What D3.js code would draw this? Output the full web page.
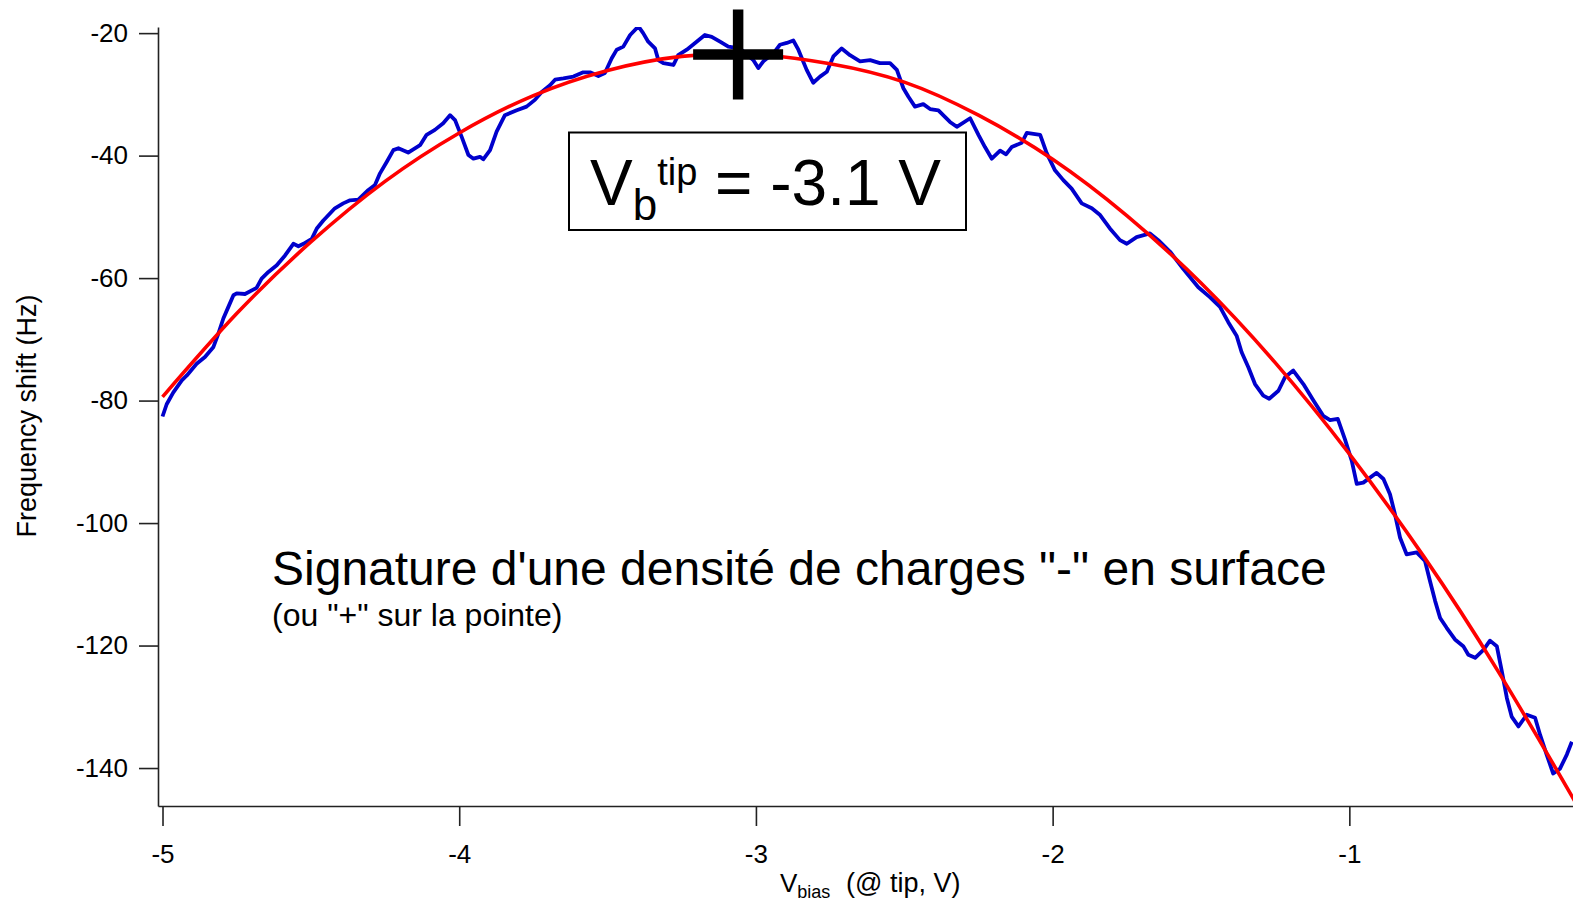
<!DOCTYPE html>
<html>
<head>
<meta charset="utf-8">
<script src="https://cdn.jsdelivr.net/npm/d3@7"></script>
<style>
  html, body { margin: 0; padding: 0; background: #fff; }
  svg { display: block; font-family: "Liberation Sans", Arial, Helvetica, sans-serif; }
  .axis path, .axis line { stroke: #222; stroke-width: 1.6; }
  .axis text { fill: #000; font-size: 26px; font-family: "Liberation Sans", Arial, sans-serif; }
</style>
</head>
<body>
<svg id="chart" width="1573" height="904"></svg>
<script>
// Measured frequency shift vs. bias voltage (tip side)
const biasV = [-5.000,-4.986,-4.964,-4.935,-4.918,-4.885,-4.857,-4.829,-4.812,-4.795,
  -4.778,-4.761,-4.750,-4.722,-4.683,-4.666,-4.643,-4.615,-4.587,-4.559,
  -4.542,-4.525,-4.497,-4.480,-4.458,-4.419,-4.391,-4.368,-4.340,-4.306,
  -4.284,-4.267,-4.244,-4.222,-4.205,-4.172,-4.132,-4.110,-4.082,-4.054,
  -4.031,-4.014,-3.992,-3.969,-3.952,-3.930,-3.919,-3.896,-3.874,-3.846,
  -3.806,-3.773,-3.745,-3.722,-3.694,-3.677,-3.649,-3.615,-3.582,-3.559,
  -3.531,-3.509,-3.486,-3.469,-3.447,-3.424,-3.396,-3.380,-3.363,-3.340,
  -3.329,-3.312,-3.278,-3.262,-3.233,-3.205,-3.172,-3.149,-3.121,-3.093,
  -3.054,-3.009,-2.992,-2.975,-2.941,-2.919,-2.896,-2.874,-2.857,-2.829,
  -2.807,-2.784,-2.761,-2.739,-2.711,-2.683,-2.649,-2.615,-2.582,-2.548,
  -2.525,-2.503,-2.486,-2.464,-2.436,-2.413,-2.385,-2.346,-2.323,-2.278,
  -2.250,-2.228,-2.205,-2.177,-2.157,-2.138,-2.104,-2.087,-2.042,-2.020,
  -1.992,-1.964,-1.936,-1.902,-1.868,-1.840,-1.807,-1.773,-1.750,-1.717,
  -1.672,-1.644,-1.604,-1.560,-1.509,-1.470,-1.436,-1.408,-1.380,-1.363,
  -1.340,-1.318,-1.290,-1.270,-1.239,-1.217,-1.189,-1.155,-1.121,-1.088,
  -1.065,-1.039,-1.015,-0.992,-0.975,-0.953,-0.908,-0.885,-0.863,-0.846,
  -0.829,-0.807,-0.773,-0.745,-0.728,-0.711,-0.694,-0.672,-0.644,-0.616,
  -0.599,-0.576,-0.548,-0.526,-0.503,-0.486,-0.469,-0.453,-0.430,-0.402,
  -0.374,-0.357,-0.335,-0.313,-0.290,-0.267,-0.250];

const freqShift = [-82.6,-80.6,-78.7,-76.7,-75.9,-74.0,-72.9,-71.3,-69.1,-66.6,
  -64.7,-62.8,-62.5,-62.6,-61.6,-60.1,-59.0,-57.9,-56.3,-54.4,
  -54.8,-54.4,-53.6,-51.9,-50.6,-48.6,-47.8,-47.3,-47.2,-45.6,
  -44.8,-42.9,-41.0,-39.1,-38.8,-39.5,-38.3,-36.6,-35.8,-34.7,
  -33.4,-34.2,-36.9,-39.9,-40.5,-40.2,-40.6,-39.1,-36.1,-33.4,
  -32.6,-32.0,-30.9,-29.6,-28.5,-27.6,-27.4,-27.1,-26.4,-26.4,
  -27.0,-26.5,-24.1,-22.7,-22.2,-20.3,-18.9,-20.0,-21.4,-22.5,
  -24.4,-24.9,-25.2,-23.6,-22.7,-21.6,-20.3,-20.6,-21.4,-22.2,
  -22.5,-24.4,-25.7,-24.6,-23.3,-21.9,-21.6,-21.2,-22.7,-26.0,
  -28.1,-27.1,-26.3,-23.8,-22.5,-23.6,-24.6,-24.4,-24.9,-24.9,
  -26.0,-29.0,-30.4,-32.0,-31.6,-32.4,-32.6,-34.5,-35.3,-33.9,
  -36.6,-38.6,-40.5,-39.2,-39.8,-38.6,-37.9,-36.3,-36.6,-39.6,
  -42.4,-44.0,-45.4,-47.8,-48.6,-49.7,-51.9,-53.8,-54.4,-53.3,
  -52.7,-53.8,-55.7,-58.5,-61.5,-63.1,-64.7,-67.2,-69.4,-72.1,
  -74.6,-77.3,-79.2,-79.7,-78.4,-76.2,-75.1,-77.3,-80.0,-82.5,
  -83.2,-83.0,-86.3,-89.8,-93.6,-93.4,-91.8,-92.8,-95.3,-98.6,
  -102.4,-105.1,-104.8,-106.2,-109.5,-112.7,-115.5,-117.1,-119.0,-120.1,
  -121.5,-122.0,-120.7,-119.2,-120.1,-124.2,-128.6,-131.6,-133.2,-131.3,
  -131.8,-134.6,-137.8,-140.9,-140.1,-137.8,-135.7];

// Parabolic fit, sampled along the bias range
const fitV     = [-5.0, -4.75, -4.5, -4.25, -4.0, -3.75, -3.5, -3.25, -3.0, -2.75,
                  -2.5, -2.25, -2.0, -1.75, -1.5, -1.25, -1.0, -0.75, -0.5, -0.25, -0.2];
const fitShift = [-79.4, -65.8, -54.1, -44.2, -36.3, -30.2, -26.1, -23.8, -23.5, -25.0,
                  -28.0, -33.4, -40.6, -49.8, -60.8, -73.8, -88.7, -105.4, -124.1, -144.6, -149.0];

// Vertex of the fit (marked by the cross)
const vertexV = -3.06;
const vertexShift = -23.5;

const xTicks = [-5, -4, -3, -2, -1];
const yTicks = [-20, -40, -60, -80, -100, -120, -140];

const mainNote = "Signature d'une densit\u00e9 de charges \"-\" en surface";
const subNote = "(ou \"+\" sur la pointe)";

const svg = d3.select("#chart");
const plotLeft = 158, plotRight = 1573, plotTop = 27, plotBottom = 806;

const x = d3.scaleLinear().domain([-5.0152, -0.2462]).range([plotLeft, plotRight]);
const y = d3.scaleLinear().domain([-146.2, -19.0]).range([plotBottom, plotTop]);

// clip region for the data traces
svg.append("defs").append("clipPath").attr("id", "plotClip")
  .append("rect").attr("x", plotLeft).attr("y", plotTop)
  .attr("width", plotRight - plotLeft).attr("height", plotBottom - plotTop);

// axes
const xAxis = d3.axisBottom(x).tickValues(xTicks).tickSize(20).tickPadding(19)
  .tickSizeOuter(0).tickFormat(d => String(d));
svg.append("g").attr("class", "axis").attr("transform", `translate(0,${plotBottom})`)
  .call(xAxis);

const yAxis = d3.axisLeft(y).tickValues(yTicks).tickSize(19).tickPadding(11)
  .tickSizeOuter(0).tickFormat(d => String(d));
svg.append("g").attr("class", "axis").attr("transform", `translate(${plotLeft},0)`)
  .call(yAxis);

// axis titles
const xt = svg.append("text").attr("y", 892).attr("font-size", 26).attr("fill", "#000");
xt.append("tspan").attr("x", 780).text("V");
xt.append("tspan").attr("font-size", 18).attr("dy", 6).text("bias");
xt.append("tspan").attr("x", 846).attr("dy", -6).attr("font-size", 27).text("(@ tip, V)");

svg.append("text")
  .attr("transform", "translate(36,416) rotate(-90)")
  .attr("text-anchor", "middle").attr("font-size", 27).attr("fill", "#000")
  .text("Frequency shift (Hz)");

// traces
const plot = svg.append("g").attr("clip-path", "url(#plotClip)");

const measured = biasV.map((v, i) => [v, freqShift[i]]);
const fit = fitV.map((v, i) => [v, fitShift[i]]);

plot.append("path").datum(measured)
  .attr("fill", "none").attr("stroke", "#0000cc").attr("stroke-width", 3.8)
  .attr("stroke-linejoin", "round")
  .attr("d", d3.line().x(d => x(d[0])).y(d => y(d[1])));

plot.append("path").datum(fit)
  .attr("fill", "none").attr("stroke", "#ff0000").attr("stroke-width", 3.6)
  .attr("d", d3.line().curve(d3.curveNatural).x(d => x(d[0])).y(d => y(d[1])));

// cross marking the fit vertex
const cx = x(vertexV), cy = y(vertexShift), arm = 45;
svg.append("path")
  .attr("d", `M${cx - arm},${cy}H${cx + arm}M${cx},${cy - arm}V${cy + arm}`)
  .attr("stroke", "#000").attr("stroke-width", 10.5).attr("fill", "none");

// annotation box with the vertex voltage
svg.append("rect").attr("x", 569).attr("y", 132.5).attr("width", 397).attr("height", 97.5)
  .attr("fill", "#fff").attr("stroke", "#000").attr("stroke-width", 2);

const bt = svg.append("text").attr("x", 590).attr("y", 205).attr("font-size", 64).attr("fill", "#000");
bt.append("tspan").text("V");
bt.append("tspan").attr("font-size", 44).attr("dy", 15).text("b");
bt.append("tspan").attr("font-size", 38).attr("dy", -35).text("tip");
bt.append("tspan").attr("dy", 20).text(" = " + vertexV.toFixed(1) + " V");

// notes
svg.append("text").attr("x", 272).attr("y", 585).attr("font-size", 48).attr("fill", "#000")
  .text(mainNote);
svg.append("text").attr("x", 272).attr("y", 626).attr("font-size", 32).attr("fill", "#000")
  .text(subNote);
</script>
</body>
</html>
